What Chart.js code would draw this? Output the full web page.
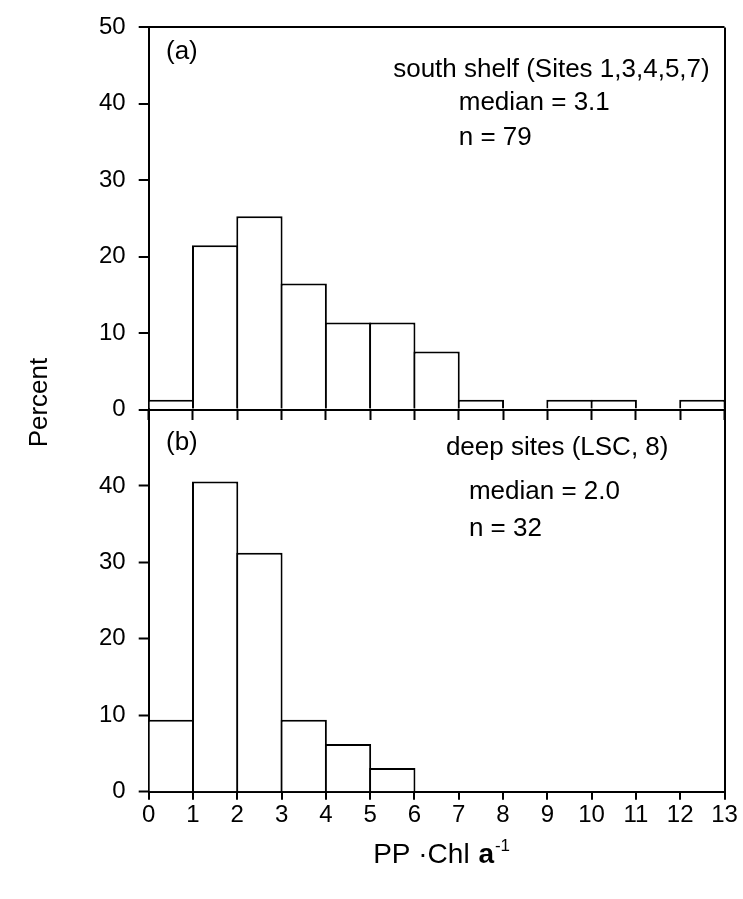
<!DOCTYPE html>
<html><head><meta charset="utf-8">
<script src="https://cdn.jsdelivr.net/npm/chart.js@4.4.0/dist/chart.umd.min.js"></script>
<style>html,body{margin:0;padding:0;background:#fff}#wrap{position:relative;width:743px;height:899px}</style>
</head><body><div id="wrap"><canvas id="c" width="743" height="899"></canvas></div>
<script>
// ---- data ----
const binStarts = [0,1,2,3,4,5,6,7,8,9,10,11,12];
const southShelfPercent = [1.27,21.5,25.3,16.5,11.4,11.4,7.6,1.27,0,1.27,1.27,0,1.27];
const deepSitesPercent = [9.4,40.6,31.25,9.4,6.25,3.1,0,0,0,0,0,0,0];
const xTickValues = [0,1,2,3,4,5,6,7,8,9,10,11,12,13];
const yTicksTop = [0,10,20,30,40,50];
const yTicksBottom = [0,10,20,30,40];
const panelLetters = ['(a)','(b)'];
const topNotes = ['south shelf (Sites 1,3,4,5,7)','median = 3.1','n = 79'];
const bottomNotes = ['deep sites (LSC, 8)','median = 2.0','n = 32'];
const yTitle = 'Percent';
const xTitleParts = ['PP \u00b7Chl ','a','-1'];

const FONT = "'Liberation Sans', Arial, Helvetica, sans-serif";
Chart.defaults.font.family = FONT;
Chart.defaults.color = '#000';

const toPoints = vals => binStarts.map((b,i)=>({x:b+0.5, y:vals[i]}));
const setTicks = arr => s => { s.ticks = arr.map(v=>({value:v})); };
const onlyAt = v => c => (c.tick && c.tick.value === v) ? '#000' : 'rgba(0,0,0,0)';

const barStyle = {
  type:'bar', grouped:false, barPercentage:1.045, categoryPercentage:1,
  backgroundColor:'#fff', borderColor:'#000', borderWidth:2, inflateAmount:0, xAxisID:'x'
};

const annot = {
  id:'annot',
  afterDraw(chart){
    const ctx = chart.ctx, x = chart.scales.x, yt = chart.scales.y, yb = chart.scales.y2;
    const a = chart.chartArea;
    ctx.save();
    ctx.fillStyle = '#000';
    ctx.textBaseline = 'middle';
    ctx.textAlign = 'left';
    ctx.font = '26px ' + FONT;
    const put = (t, xv, ys, yv) => ctx.fillText(t, x.getPixelForValue(xv), ys.getPixelForValue(yv));
    put(panelLetters[0], 0.39, yt, 46.8);
    put(topNotes[0], 5.52, yt, 44.45);
    put(topNotes[1], 7.0, yt, 40.1);
    put(topNotes[2], 7.0, yt, 35.6);
    put(panelLetters[1], 0.39, yb, 45.6);
    put(bottomNotes[0], 6.71, yb, 45.0);
    put(bottomNotes[1], 7.23, yb, 39.25);
    put(bottomNotes[2], 7.23, yb, 34.4);
    // y-axis title
    ctx.save();
    ctx.translate(40, (a.top + a.bottom)/2 - 7);
    ctx.rotate(-Math.PI/2);
    ctx.textAlign = 'center';
    ctx.fillText(yTitle, 0, 0);
    ctx.restore();
    // x-axis title with bold "a" and superscript
    const f1 = '28px ' + FONT, f2 = 'bold 28px ' + FONT, f3 = '17px ' + FONT;
    ctx.font = f1; const w1 = ctx.measureText(xTitleParts[0]).width;
    ctx.font = f2; const w2 = ctx.measureText(xTitleParts[1]).width;
    ctx.font = f3; const w3 = ctx.measureText(xTitleParts[2]).width;
    let cx = (a.left + a.right)/2 + 4 - (w1+w2+w3)/2;
    const cy = a.bottom + 71;
    ctx.textBaseline = 'alphabetic';
    ctx.font = f1; ctx.fillText(xTitleParts[0], cx, cy); cx += w1 + 1;
    ctx.font = f2; ctx.fillText(xTitleParts[1], cx, cy); cx += w2 + 1;
    ctx.font = f3; ctx.fillText(xTitleParts[2], cx, cy - 12);
    ctx.restore();
  }
};

new Chart(document.getElementById('c'), {
  data: {
    datasets: [
      Object.assign({label:'south shelf', data: toPoints(southShelfPercent), yAxisID:'y'}, barStyle),
      Object.assign({label:'deep sites', data: toPoints(deepSitesPercent), yAxisID:'y2'}, barStyle)
    ]
  },
  options: {
    responsive:false, animation:false, devicePixelRatio:1,
    layout:{ padding:{ left:55.6, right:18.5, top:23.3, bottom:0 } },
    plugins:{ legend:{display:false}, tooltip:{enabled:false}, title:{display:false} },
    scales:{
      x:{ type:'linear', axis:'x', position:'bottom', min:0, max:13, z:1, offset:false,
          afterBuildTicks:setTicks(xTickValues),
          afterFit: s => { s.height = 107.3; },
          ticks:{ font:{size:24, lineHeight:1}, color:'#000', padding:4, maxRotation:0, autoSkip:false },
          grid:{ offset:false, drawOnChartArea:true, color:onlyAt(13), lineWidth:2, tickColor:'#000', tickWidth:2, tickLength:8 },
          border:{ display:true, color:'#000', width:2 } },
      x2:{ type:'linear', axis:'x', position:{y:0}, min:0, max:13, z:1, offset:false,
          afterBuildTicks:setTicks(xTickValues),
          ticks:{ display:false },
          grid:{ offset:false, drawOnChartArea:false, tickColor:'#000', tickWidth:2, tickLength:9 },
          border:{ display:true, color:'#000', width:2 } },
      y:{ type:'linear', axis:'y', position:'left', stack:'panels', stackWeight:1, weight:2, min:0, max:50, z:1,
          afterBuildTicks:setTicks(yTicksTop),
          afterFit: s => { s.width = 93.1; },
          ticks:{ font:{size:24}, color:'#000', padding:13 },
          grid:{ drawOnChartArea:true, color:onlyAt(50), lineWidth:2, tickColor:'#000', tickWidth:2, tickLength:10 },
          border:{ display:true, color:'#000', width:2 } },
      y2:{ type:'linear', axis:'y', position:'left', stack:'panels', stackWeight:1, weight:1, min:0, max:50, z:1,
          afterBuildTicks:setTicks(yTicksBottom),
          afterFit: s => { s.width = 93.1; },
          ticks:{ font:{size:24}, color:'#000', padding:13 },
          grid:{ drawOnChartArea:false, tickColor:'#000', tickWidth:2, tickLength:10 },
          border:{ display:true, color:'#000', width:2 } }
    }
  },
  plugins:[annot]
});
</script></body></html>
